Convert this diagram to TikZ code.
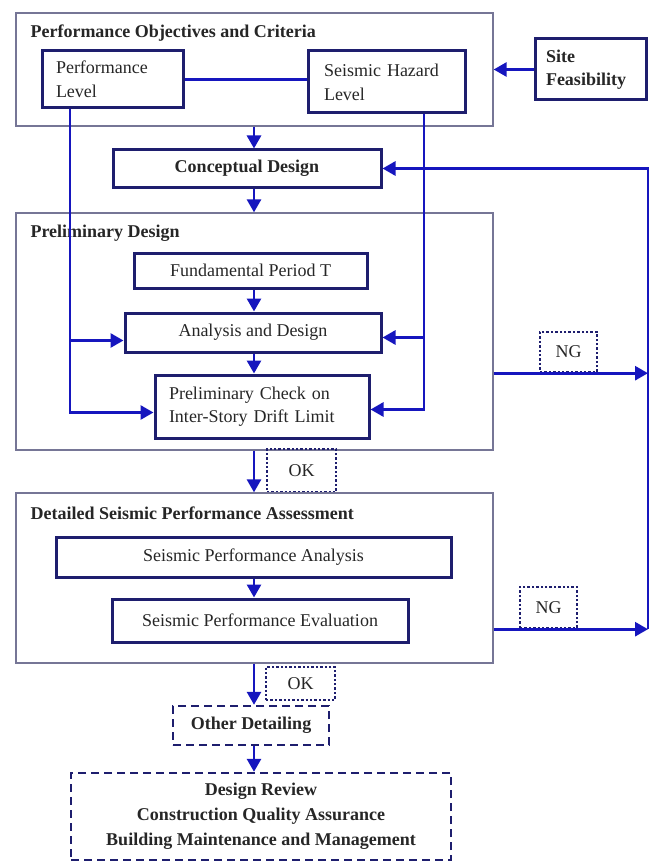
\documentclass[tikz,border=0pt]{standalone}
\usepackage{fontspec}
\setmainfont{Liberation Serif}
\usetikzlibrary{arrows.meta}

\definecolor{navy}{RGB}{30,30,110}
\definecolor{flowblue}{RGB}{22,22,190}
\definecolor{stageframe}{RGB}{118,118,150}

\tikzset{
	stage/.style={draw=stageframe, line width=1.3pt, minimum width=477pt, inner sep=0pt},
	unit/.style={draw=navy, line width=3pt, inner sep=0pt},
	verdict/.style={draw=navy, dotted, line width=2.4pt, inner sep=0pt, minimum width=57pt},
	later/.style={draw=navy, dash pattern=on 8pt off 5pt, line width=2.4pt, inner sep=0pt, font=\fontsize{18}{25}\selectfont\bfseries},
	flow/.style={draw=flowblue, line width=2.8pt, -{Triangle[length=13pt,width=14pt]}},
	link/.style={draw=flowblue, line width=2.8pt},
	heading/.style={anchor=west, font=\fontsize{18}{24}\selectfont\bfseries},
}

\begin{document}
\begin{tikzpicture}[x=1pt, y=-1pt, every node/.style={font=\fontsize{18}{24}\selectfont, text=black!85}]
	\useasboundingbox (0,0) rectangle (654,861);
	\coordinate (axis) at (254,0);      % main vertical line
	\coordinate (leftrail) at (70,0);   % line from Performance Level
	\coordinate (rightrail) at (424,0); % line from Seismic Hazard Level
	\coordinate (backrail) at (648,0);  % return line to Conceptual Design

	% Performance Objectives and Criteria
	\node[stage, minimum height=113pt] (objectives) at (254.5,69.5) {};
	\node[heading] (objtitle) at (27,33) {Performance Objectives and Criteria};
	\node[unit, minimum width=141pt, minimum height=57pt, text width=113pt, align=left] (perflevel) at (112.5,79.5) {Performance\\Level};
	\node[unit, minimum width=157pt, minimum height=62pt, text width=125pt, align=left] (hazard) at (386.5,82) {Seismic Hazard\\Level};
	\node[unit, minimum width=111pt, minimum height=61pt, text width=89pt, align=left, font=\fontsize{18}{23}\selectfont\bfseries] (site) at (590.5,69.5) {Site\\Feasibility};

	\node[unit, minimum width=268pt, minimum height=37pt, font=\fontsize{18}{24}\selectfont\bfseries] (concept) at (247,168.5) {Conceptual Design};

	% Preliminary Design
	\node[stage, minimum height=237pt] (prelim) at (254.5,331.5) {};
	\node[heading] (pretitle) at (27,233) {Preliminary Design};
	\node[unit, minimum width=233pt, minimum height=35pt] (period) at (250.5,270.5) {Fundamental Period T};
	\node[unit, minimum width=256pt, minimum height=39pt] (analysis) at (253,332.5) {Analysis and Design};
	\node[unit, minimum width=214pt, minimum height=63pt, text width=186pt, align=left, font=\fontsize{18}{23}\selectfont] (check) at (262,406.5) {Preliminary Check on\\Inter-Story Drift Limit};

	\node[verdict, minimum height=40pt] (ng1) at (568.5,352) {NG};
	\node[verdict, minimum width=69pt, minimum height=43pt] (ok1) at (301.5,470.5) {OK};

	% Detailed Seismic Performance Assessment
	\node[stage, minimum height=170pt] (detailed) at (254.5,578) {};
	\node[heading] (dettitle) at (27,513) {Detailed Seismic Performance Assessment};
	\node[unit, minimum width=395pt, minimum height=40pt] (spanalysis) at (253.5,557) {Seismic Performance Analysis};
	\node[unit, minimum width=296pt, minimum height=43pt] (speval) at (260,620.5) {Seismic Performance Evaluation};

	\node[verdict, minimum height=41pt] (ng2) at (548.5,607.5) {NG};
	\node[verdict, minimum width=69pt, minimum height=33pt] (ok2) at (300.5,683.5) {OK};

	% later stages
	\node[later, minimum width=156pt, minimum height=39pt] (other) at (251,725.5) {Other Detailing};
	\node[later, minimum width=380pt, minimum height=87pt, align=center] (review) at (261,816.5) {Design Review\\Construction Quality Assurance\\Building Maintenance and Management};

	% connectors
	\draw[link] (perflevel.east) -- (perflevel.east -| hazard.west);
	\draw[flow] (site.west) -- (site.west -| objectives.east);
	\draw[flow] (objectives.south -| axis) -- (concept.north -| axis);
	\draw[flow] (concept.south -| axis) -- (prelim.north -| axis);
	\draw[flow] (period.south -| axis) -- (analysis.north -| axis);
	\draw[flow] (analysis.south -| axis) -- (check.north -| axis);

	\draw[flow] (perflevel.south -| leftrail) |- ([yshift=-6pt]check.west);
	\draw[flow] ([yshift=-8pt]analysis.west -| leftrail) -- ([yshift=-8pt]analysis.west);
	\draw[flow] (hazard.south -| rightrail) |- ([yshift=-3pt]check.east);
	\draw[flow] ([yshift=-5pt]analysis.east -| rightrail) -- ([yshift=-5pt]analysis.east);

	\draw[flow] (prelim.east |- ng1.south) -- (ng1.south -| backrail);
	\draw[flow] (prelim.south -| axis) -- (detailed.north -| axis);
	\draw[flow] (spanalysis.south -| axis) -- (speval.north -| axis);
	\draw[flow] (detailed.east |- ng2.south) -- (ng2.south -| backrail);
	\draw[flow] (ng2.south -| backrail) -- (concept.east -| backrail) -- (concept.east);

	\draw[flow] (detailed.south -| axis) -- (other.north -| axis);
	\draw[flow] (other.south -| axis) -- (review.north -| axis);
\end{tikzpicture}
\end{document}
